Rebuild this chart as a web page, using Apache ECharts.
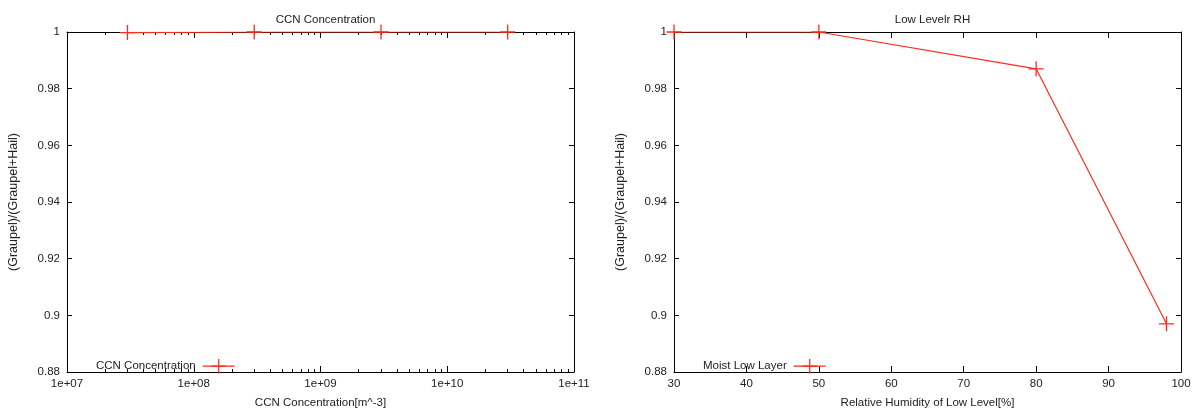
<!DOCTYPE html>
<html><head><meta charset="utf-8">
<script src="https://cdn.jsdelivr.net/npm/echarts@6/dist/echarts.min.js"></script>
<style>html,body{margin:0;padding:0;background:#fff}#c{width:1199px;height:414px}</style>
</head><body><div id="c"></div>
<script>
const ccnTitle = 'CCN Concentration';
const ccnName = 'CCN Concentration';
const ccnX = [3e7, 3e8, 3e9, 3e10];
const ccnY = [0.9998, 1, 1, 1];
const ccnMajor = [1e7, 1e8, 1e9, 1e10, 1e11];
const ccnMinor = [2e7,3e7,4e7,5e7,6e7,7e7,8e7,9e7,2e8,3e8,4e8,5e8,6e8,7e8,8e8,9e8,2e9,3e9,4e9,5e9,6e9,7e9,8e9,9e9,2e10,3e10,4e10,5e10,6e10,7e10,8e10,9e10];
const rhTitle = 'Low Levelr RH';
const rhName = 'Moist Low Layer';
const rhX = [30, 50, 80, 98];
const rhY = [1, 1, 0.987, 0.897];
const yLabel = '(Graupel)/(Graupel+Hail)';
const ccnXLabel = 'CCN Concentration[m^-3]';
const rhXLabel = 'Relative Humidity of Low Level[%]';

const font = 'Liberation Sans, Arial, sans-serif';
const fs = 11.5;
const txt = '#222';
const red = '#ff2a1a';
const plus = 'path://M0,6.4 L14,6.4 L14,7.6 L0,7.6 Z M6.4,0 L7.6,0 L7.6,14 L6.4,14 Z';
const grids = [
  {left: 67, top: 32, width: 507, height: 344},
  {left: 674, top: 32, width: 507, height: 344}
];
const lineAxis = {show: true, lineStyle: {color: '#000', width: 1}};
function yAxes(gi) {
  const base = {type: 'value', gridIndex: gi, min: 0.88, max: 1, interval: 0.02, splitLine: {show: false}};
  return [
    Object.assign({}, base, {position: 'left', name: yLabel, nameLocation: 'middle', nameGap: 47,
      nameTextStyle: {fontFamily: font, fontSize: 12.5, color: txt},
      axisLine: lineAxis, axisTick: {inside: true, length: 5, lineStyle: {color: '#000'}},
      axisLabel: {fontFamily: font, fontSize: fs, color: txt, margin: 7,
        formatter: v => String(parseFloat(v.toFixed(2)))}}),
    Object.assign({}, base, {position: 'right', axisLine: lineAxis,
      axisTick: {inside: true, length: 5, lineStyle: {color: '#000'}}, axisLabel: {show: false}})
  ];
}
const xAxes = [
  {type: 'log', logBase: 10, gridIndex: 0, min: 1e7, max: 1e11, position: 'bottom',
   name: ccnXLabel, nameLocation: 'middle', nameGap: 25, nameTextStyle: {fontFamily: font, fontSize: fs, color: txt},
   axisLine: lineAxis, splitLine: {show: false},
   axisTick: {inside: true, length: 6, customValues: ccnMajor, lineStyle: {color: '#000'}},
   axisLabel: {fontFamily: font, fontSize: fs, color: txt, margin: 6, customValues: ccnMajor,
     formatter: v => '1e+' + String(Math.round(Math.log10(v))).padStart(2, '0')}},
  {type: 'log', logBase: 10, gridIndex: 0, min: 1e7, max: 1e11, position: 'bottom',
   axisLine: {show: false}, splitLine: {show: false}, axisLabel: {show: false},
   axisTick: {inside: true, length: 3, customValues: ccnMinor, lineStyle: {color: '#000'}}},
  {type: 'log', logBase: 10, gridIndex: 0, min: 1e7, max: 1e11, position: 'top',
   axisLine: lineAxis, splitLine: {show: false}, axisLabel: {show: false},
   axisTick: {inside: true, length: 6, customValues: ccnMajor, lineStyle: {color: '#000'}}},
  {type: 'log', logBase: 10, gridIndex: 0, min: 1e7, max: 1e11, position: 'top',
   axisLine: {show: false}, splitLine: {show: false}, axisLabel: {show: false},
   axisTick: {inside: true, length: 3, customValues: ccnMinor, lineStyle: {color: '#000'}}},
  {type: 'value', gridIndex: 1, min: 30, max: 100, interval: 10, position: 'bottom',
   name: rhXLabel, nameLocation: 'middle', nameGap: 25, nameTextStyle: {fontFamily: font, fontSize: fs, color: txt},
   axisLine: lineAxis, splitLine: {show: false},
   axisTick: {inside: true, length: 6, lineStyle: {color: '#000'}},
   axisLabel: {fontFamily: font, fontSize: fs, color: txt, margin: 6}},
  {type: 'value', gridIndex: 1, min: 30, max: 100, interval: 10, position: 'top',
   axisLine: lineAxis, splitLine: {show: false}, axisLabel: {show: false},
   axisTick: {inside: true, length: 6, lineStyle: {color: '#000'}}}
];
const seriesStyle = {type: 'line', symbol: plus, symbolSize: 15, color: red,
  lineStyle: {width: 1.2, color: red}, itemStyle: {color: red}, animation: false};
const legendBase = {top: 354, align: 'right', itemWidth: 32, itemHeight: 18, itemGap: 0,
  lineStyle: {width: 1.3}, textStyle: {fontFamily: font, fontSize: fs, color: txt, padding: [0, 2, 0, 0]}};
const option = {
  backgroundColor: '#fff',
  animation: false,
  title: [
    {text: ccnTitle, left: 320.5, top: 9, textAlign: 'center', textStyle: {fontFamily: font, fontSize: fs, fontWeight: 'normal', color: txt}},
    {text: rhTitle, left: 927.5, top: 9, textAlign: 'center', textStyle: {fontFamily: font, fontSize: fs, fontWeight: 'normal', color: txt}}
  ],
  grid: grids,
  xAxis: xAxes,
  yAxis: yAxes(0).concat(yAxes(1)),
  legend: [
    Object.assign({}, legendBase, {data: [ccnName], left: 91}),
    Object.assign({}, legendBase, {data: [rhName], left: 698})
  ],
  series: [
    Object.assign({}, seriesStyle, {name: ccnName, xAxisIndex: 0, yAxisIndex: 0,
      data: ccnX.map((x, i) => [x, ccnY[i]])}),
    Object.assign({}, seriesStyle, {name: rhName, xAxisIndex: 4, yAxisIndex: 2,
      data: rhX.map((x, i) => [x, rhY[i]])})
  ]
};
const chart = echarts.init(document.getElementById('c'), null, {renderer: 'canvas'});
chart.setOption(option);
</script>
</body></html>
